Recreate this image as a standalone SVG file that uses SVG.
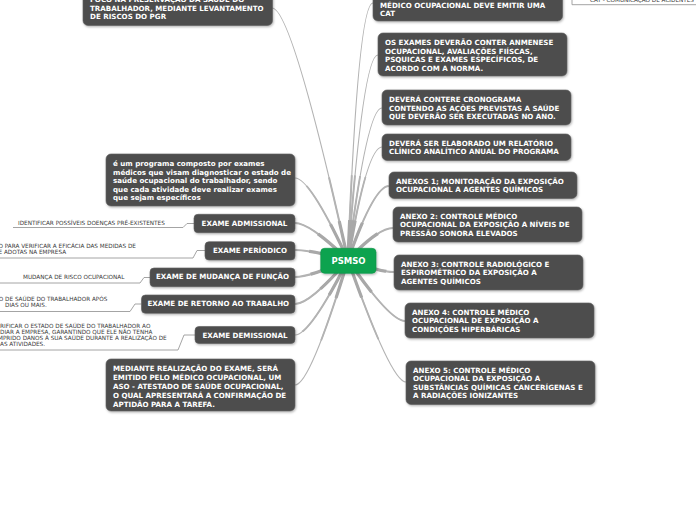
<svg xmlns="http://www.w3.org/2000/svg" width="696" height="520" viewBox="0 0 696 520">
<style>
.n{fill:#4d4d4d;stroke:#5e5e5e;stroke-width:0.6;filter:url(#sh)}
.t{font-family:"DejaVu Sans",Verdana,sans-serif;font-weight:bold;font-size:7.1px;fill:#fff}
.tc{text-anchor:middle}
.l{font-family:"DejaVu Sans",Verdana,sans-serif;font-size:5.7px;fill:#3a3a3a}
.c{fill:none;stroke:#b3b3b3;stroke-width:1.2}
.lf{fill:none;stroke:#9a9a9a;stroke-width:0.9}
</style>
<defs>
<filter id="sh" x="-10%" y="-20%" width="120%" height="150%">
<feDropShadow dx="0.8" dy="1.2" stdDeviation="1" flood-color="#000" flood-opacity="0.3"/>
</filter>
<clipPath id="near"><circle cx="348" cy="260" r="40"/></clipPath>
<clipPath id="mid"><circle cx="348" cy="260" r="85"/></clipPath>
<g id="paths">
<path d="M348 260 Q358 3 373 3"/>
<path d="M348 260 Q363 55 378 55"/>
<path d="M348 260 Q367 108 382 108"/>
<path d="M348 260 Q367 147 382 147"/>
<path d="M348 260 Q374 186 389 186"/>
<path d="M348 260 Q378 228 393 228"/>
<path d="M348 260 Q379 272 394 272"/>
<path d="M348 260 Q390 321 405 321"/>
<path d="M348 260 Q391 382 406 382"/>
<path d="M348 260 Q292 8 272 8"/>
<path d="M348 260 Q310 178 295 178"/>
<path d="M348 260 Q310 223 295 223"/>
<path d="M348 260 Q310 250 295 250"/>
<path d="M348 260 Q310 277 295 277"/>
<path d="M348 260 Q310 304 295 304"/>
<path d="M348 260 Q310 335 295 335"/>
<path d="M348 260 Q310 385 295 385"/>
</g>
</defs>

<g id="connectors">
<use href="#paths" class="c"/>
<g clip-path="url(#mid)"><use href="#paths" class="c" style="stroke-width:2"/></g>
<g clip-path="url(#near)"><use href="#paths" class="c" style="stroke-width:3.2;stroke:#a8a8a8"/></g>
<path class="lf" d="M563 -6 H569 L572 -1 V4.7 H696"/>
<path class="lf" d="M194 223.5 H187 L183 227.5 H13"/>
<path class="lf" d="M205 250.5 H197 L193 258 H0"/>
<path class="lf" d="M150 277.5 H144 L140 283 H0"/>
<path class="lf" d="M141.5 304 H135 L130 311.5 H0"/>
<path class="lf" d="M195 335 H184 L178 350 H0"/>
</g>

<g id="leaf-cat"><text class="l" x="590" y="1.5">CAT - COMUNICAÇÃO DE ACIDENTES</text></g>
<g id="leaf-admissional"><text class="l" x="18" y="225">IDENTIFICAR POSSÍVEIS DOENÇAS PRÉ-EXISTENTES</text></g>
<g id="leaf-periodico"><text class="l" x="-1.5" y="248.3">O PARA VERIFICAR A EFICÁCIA DAS MEDIDAS DE</text><text class="l" x="-1.5" y="254.3">E ADOTAS NA EMPRESA</text></g>
<g id="leaf-mudanca"><text class="l" x="23" y="279">MUDANÇA DE RISCO OCUPACIONAL</text></g>
<g id="leaf-retorno"><text class="l" x="-1.2" y="300.7">O DE SAÚDE DO TRABALHADOR APÓS</text><text class="l" x="5" y="306.7">DIAS OU MAIS.</text></g>
<g id="leaf-demissional">
<text class="l" x="0" y="327.7">RIFICAR O ESTADO DE SAÚDE DO TRABALHADOR AO</text>
<text class="l" x="0" y="333.7">DIAR A EMPRESA, GARANTINDO QUE ELE NÃO TENHA</text>
<text class="l" x="-2" y="340">MPRIDO DANOS À SUA SAÚDE DURANTE A REALIZAÇÃO DE</text>
<text class="l" x="0" y="346.2">AS ATIVIDADES.</text>
</g>

<g id="n-cat-node"><rect class="n" x="373" y="-14" width="189.5" height="35" rx="5"/>
<text class="t" x="380" y="7.5">MÉDICO OCUPACIONAL DEVE EMITIR UMA</text><text class="t" x="380" y="15.5">CAT</text></g>
<g id="n-exames"><rect class="n" x="378" y="33" width="189" height="43" rx="5"/>
<text class="t" x="385" y="45">OS EXAMES DEVERÃO CONTER ANMENESE</text>
<text class="t" x="385" y="53.5">OCUPACIONAL, AVALIAÇÕES FIÍSCAS,</text>
<text class="t" x="385" y="62">PSQUICAS E EXAMES ESPECÍFICOS, DE</text>
<text class="t" x="385" y="70.5">ACORDO COM A NORMA.</text></g>
<g id="n-cronograma"><rect class="n" x="382" y="90" width="189" height="35" rx="5"/>
<text class="t" x="389" y="102.3">DEVERÁ CONTERE CRONOGRAMA</text>
<text class="t" x="389" y="110.7">CONTENDO AS AÇÕES PREVISTAS A SAÚDE</text>
<text class="t" x="389" y="119.1">QUE DEVERÃO SER EXECUTADAS NO ANO.</text></g>
<g id="n-relatorio"><rect class="n" x="382" y="134" width="189" height="26.5" rx="5"/>
<text class="t" x="389" y="145.8">DEVERÁ SER ELABORADO UM RELATÓRIO</text>
<text class="t" x="389" y="154.2">CLÍNICO ANALÍTICO ANUAL DO PROGRAMA</text></g>
<g id="n-anexo1"><rect class="n" x="389" y="172" width="188" height="26.5" rx="5"/>
<text class="t" x="396" y="183.8">ANEXOS 1; MONITORAÇÃO DA EXPOSIÇÃO</text>
<text class="t" x="396" y="192.2">OCUPACIONAL A AGENTES QUÍMICOS</text></g>
<g id="n-anexo2"><rect class="n" x="393" y="207" width="189" height="35" rx="5"/>
<text class="t" x="400" y="218.8">ANEXO 2: CONTROLE MÉDICO</text>
<text class="t" x="400" y="227.2">OCUPACIONAL DA EXPOSIÇÃO A NÍVEIS DE</text>
<text class="t" x="400" y="235.6">PRESSÃO SONORA ELEVADOS</text></g>
<g id="n-anexo3"><rect class="n" x="394" y="255" width="189" height="35" rx="5"/>
<text class="t" x="401" y="266.8">ANEXO 3: CONTROLE RADIOLÓGICO E</text>
<text class="t" x="401" y="275.2">ESPIROMÉTRICO DA EXPOSIÇÃO A</text>
<text class="t" x="401" y="283.6">AGENTES QUÍMICOS</text></g>
<g id="n-anexo4"><rect class="n" x="405" y="303" width="189" height="35" rx="5"/>
<text class="t" x="412" y="314.8">ANEXO 4: CONTROLE MÉDICO</text>
<text class="t" x="412" y="323.2">OCUPACIONAL DE EXPOSIÇÃO A</text>
<text class="t" x="412" y="331.6">CONDIÇÕES HIPERBÁRICAS</text></g>
<g id="n-anexo5"><rect class="n" x="406" y="361" width="189" height="43.5" rx="5"/>
<text class="t" x="413" y="372.8">ANEXO 5: CONTROLE MÉDICO</text>
<text class="t" x="413" y="381.2">OCUPACIONAL DA EXPOSIÇÃO A</text>
<text class="t" x="413" y="389.6">SUBSTÂNCIAS QUÍMICAS CANCERÍGENAS E</text>
<text class="t" x="413" y="398">A RADIAÇÕES IONIZANTES</text></g>

<g id="n-foco"><rect class="n" x="83" y="-20" width="189.5" height="45.5" rx="5"/>
<text class="t" x="90" y="2.2">FOCO NA PRESERVAÇÃO DA SAÚDE DO</text>
<text class="t" x="90" y="10.5">TRABALHADOR, MEDIANTE LEVANTAMENTO</text>
<text class="t" x="90" y="18.7">DE RISCOS DO PGR</text></g>
<g id="n-programa"><rect class="n" x="106" y="154" width="189" height="52" rx="5"/>
<text class="t" x="113" y="166">é um programa composto por exames</text>
<text class="t" x="113" y="174.5">médicos que visam diagnosticar o estado de</text>
<text class="t" x="113" y="183">saúde ocupacional do trabalhador, sendo</text>
<text class="t" x="113" y="191.5">que cada atividade deve realizar exames</text>
<text class="t" x="113" y="200">que sejam específicos</text></g>
<g id="n-admissional"><rect class="n" x="194" y="214.3" width="101" height="18.4" rx="4"/>
<text class="t tc" x="244.5" y="225.7">EXAME ADMISSIONAL</text></g>
<g id="n-periodico"><rect class="n" x="205" y="241.7" width="90" height="18.3" rx="4"/>
<text class="t tc" x="250" y="253">EXAME PERÍODICO</text></g>
<g id="n-mudanca"><rect class="n" x="150" y="268" width="145" height="18.7" rx="4"/>
<text class="t tc" x="222.5" y="279.3">EXAME DE MUDANÇA DE FUNÇÃO</text></g>
<g id="n-retorno"><rect class="n" x="141.5" y="295" width="153.5" height="18.3" rx="4"/>
<text class="t tc" x="218.3" y="306.3">EXAME DE RETORNO AO TRABALHO</text></g>
<g id="n-demissional"><rect class="n" x="195" y="326.5" width="100" height="17" rx="4"/>
<text class="t tc" x="245" y="337.7">EXAME DEMISSIONAL</text></g>
<g id="n-aso"><rect class="n" x="106" y="359" width="189" height="52" rx="5"/>
<text class="t" x="113" y="371">MEDIANTE REALIZAÇÃO DO EXAME, SERÁ</text>
<text class="t" x="113" y="380">EMITIDO PELO MÉDICO OCUPACIONAL, UM</text>
<text class="t" x="113" y="389">ASO - ATESTADO DE SAÚDE OCUPACIONAL,</text>
<text class="t" x="113" y="398">O QUAL APRESENTARÁ A CONFIRMAÇÃO DE</text>
<text class="t" x="113" y="407">APTIDÃO PARA A TAREFA.</text></g>

<g id="n-psmso"><rect x="320.7" y="248.3" width="55.3" height="25" rx="4" fill="#0fa34f" stroke="#0c9446" stroke-width="0.6" filter="url(#sh)"/>
<text class="t tc" x="348.5" y="263.5" style="font-size:8.5px">PSMSO</text></g>
</svg>
